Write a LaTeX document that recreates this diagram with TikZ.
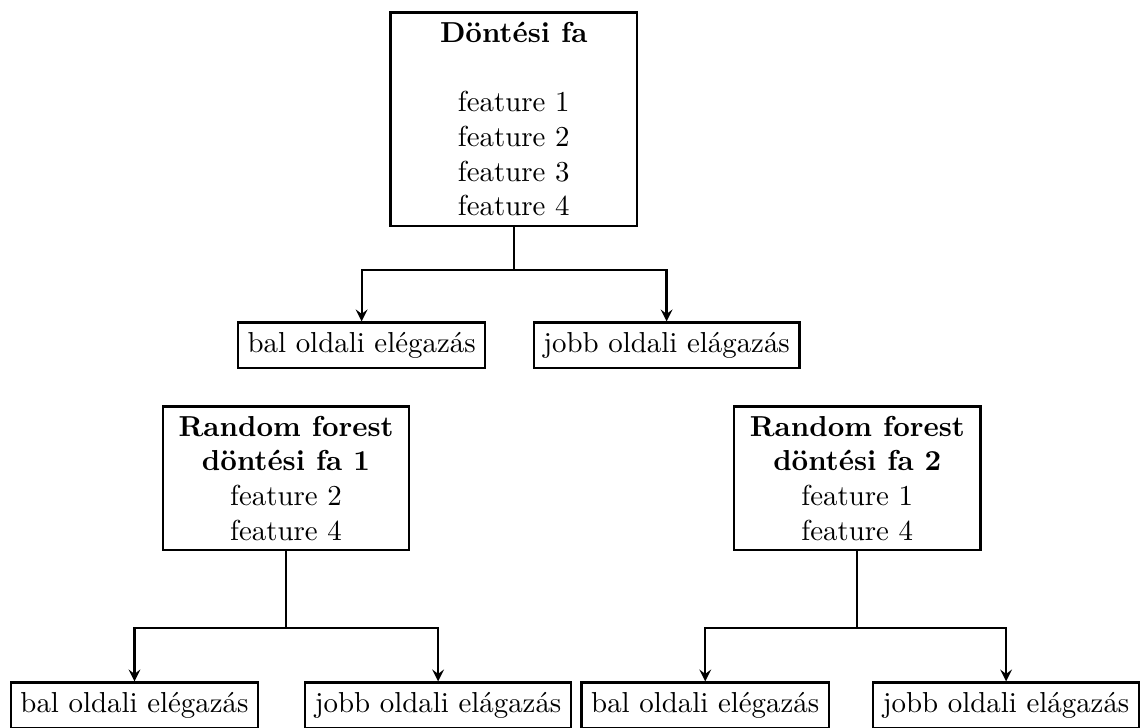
\documentclass[tikz,border=0pt]{standalone}
\usepackage{fontspec}
\begin{document}
\begin{tikzpicture}[
  treebox/.style={draw,thick,shape=rectangle,align=center,minimum width=3cm},
  leafbox/.style={draw,thick,shape=rectangle},
  branch/.style={thick,-stealth}]
\useasboundingbox (0,0) rectangle (13.93,-8.845);

\node (dfa) [treebox] at (6.25,-1.45) {\textbf{Döntési fa}\\[\baselineskip] feature 1\\ feature 2\\ feature 3\\ feature 4};
\node (dfaleft) [leafbox] at (4.40,-4.20) {bal oldali elégazás};
\node (dfaright) [leafbox] at (8.11,-4.20) {jobb oldali elágazás};

\node (rfone) [treebox] at (3.48,-5.82) {\textbf{Random forest}\\ \textbf{döntési fa 1}\\ feature 2\\ feature 4};
\node (rfoneleft) [leafbox] at (1.636,-8.58) {bal oldali elégazás};
\node (rfoneright) [leafbox] at (5.33,-8.58) {jobb oldali elágazás};

\node (rftwo) [treebox] at (10.43,-5.82) {\textbf{Random forest}\\ \textbf{döntési fa 2}\\ feature 1\\ feature 4};
\node (rftwoleft) [leafbox] at (8.58,-8.58) {bal oldali elégazás};
\node (rftworight) [leafbox] at (12.24,-8.58) {jobb oldali elágazás};

\coordinate (dfasplit) at (6.25,-3.285);
\coordinate (rfonesplit) at (3.48,-7.64);
\coordinate (rftwosplit) at (10.43,-7.64);

\draw[thick] (dfa) -- (dfasplit);
\draw[branch] (dfasplit) -| (dfaleft);
\draw[branch] (dfasplit) -| (dfaright);
\draw[thick] (rfone) -- (rfonesplit);
\draw[branch] (rfonesplit) -| (rfoneleft);
\draw[branch] (rfonesplit) -| (rfoneright);
\draw[thick] (rftwo) -- (rftwosplit);
\draw[branch] (rftwosplit) -| (rftwoleft);
\draw[branch] (rftwosplit) -| (rftworight);

\end{tikzpicture}
\end{document}
